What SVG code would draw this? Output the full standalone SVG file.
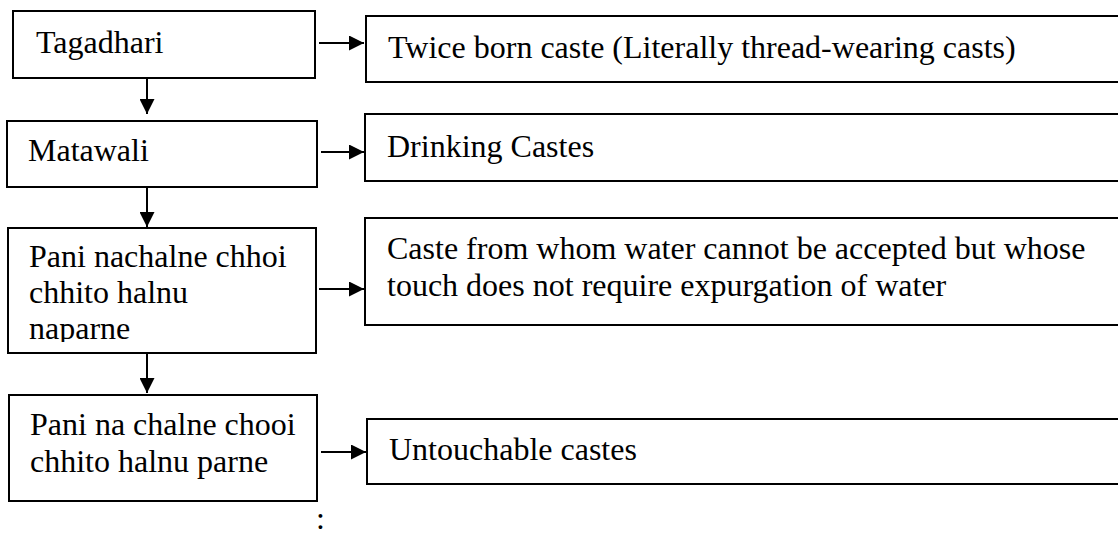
<svg xmlns="http://www.w3.org/2000/svg" width="1118" height="537" viewBox="0 0 1118 537">
  <style>
    .box { fill: #ffffff; stroke: #000000; stroke-width: 2; }
    .lbl { font-family: "Liberation Serif", "Times New Roman", serif; font-size: 32px; fill: #000000; }
    .conn { stroke: #000000; stroke-width: 2; fill: none; marker-end: url(#arrow); }
  </style>
  <defs>
    <marker id="arrow" viewBox="0 0 15 15" refX="15" refY="7.5" markerWidth="15" markerHeight="15" markerUnits="userSpaceOnUse" orient="auto">
      <path d="M0,0 L15,7.5 L0,15 Z" fill="#000000"/>
    </marker>
    <clipPath id="clip3">
      <rect x="8" y="228" width="308" height="114"/>
    </clipPath>
  </defs>
  <rect x="0" y="0" width="1118" height="537" fill="#ffffff"/>

  <g id="connectors">
    <line class="conn" x1="147" y1="78" x2="147" y2="114"/>
    <line class="conn" x1="147" y1="187" x2="147" y2="227"/>
    <line class="conn" x1="147" y1="353" x2="147" y2="393"/>
    <line class="conn" x1="319" y1="43" x2="364" y2="43"/>
    <line class="conn" x1="321" y1="152" x2="364" y2="152"/>
    <line class="conn" x1="319" y1="289" x2="364" y2="289"/>
    <line class="conn" x1="321" y1="452" x2="366" y2="452"/>
  </g>

  <g id="tagadhari">
    <rect class="box" x="13" y="11" width="302" height="67"/>
    <text class="lbl" x="36" y="53">Tagadhari</text>
  </g>
  <g id="matawali">
    <rect class="box" x="7" y="121" width="310" height="66"/>
    <text class="lbl" x="28" y="161">Matawali</text>
  </g>
  <g id="pani-nachalne">
    <rect class="box" x="8" y="228" width="308" height="125"/>
    <g clip-path="url(#clip3)">
      <text class="lbl" x="29" y="267">Pani nachalne chhoi</text>
      <text class="lbl" x="29" y="303">chhito halnu</text>
      <text class="lbl" x="29" y="339">naparne</text>
    </g>
  </g>
  <g id="pani-na-chalne">
    <rect class="box" x="9" y="395" width="308" height="106"/>
    <text class="lbl" x="30" y="435">Pani na chalne chooi</text>
    <text class="lbl" x="30" y="472">chhito halnu parne</text>
  </g>

  <g id="twice-born">
    <rect class="box" x="366" y="16" width="800" height="66"/>
    <text class="lbl" x="388" y="58">Twice born caste (Literally thread-wearing casts)</text>
  </g>
  <g id="drinking">
    <rect class="box" x="365" y="114" width="800" height="67"/>
    <text class="lbl" x="387" y="157">Drinking Castes</text>
  </g>
  <g id="water-caste">
    <rect class="box" x="365" y="218" width="800" height="107"/>
    <text class="lbl" x="387" y="259">Caste from whom water cannot be accepted but whose</text>
    <text class="lbl" x="387" y="296">touch does not require expurgation of water</text>
  </g>
  <g id="untouchable">
    <rect class="box" x="367" y="419" width="800" height="65"/>
    <text class="lbl" x="389" y="460">Untouchable castes</text>
  </g>

  <text class="lbl" x="316" y="529">:</text>
</svg>
